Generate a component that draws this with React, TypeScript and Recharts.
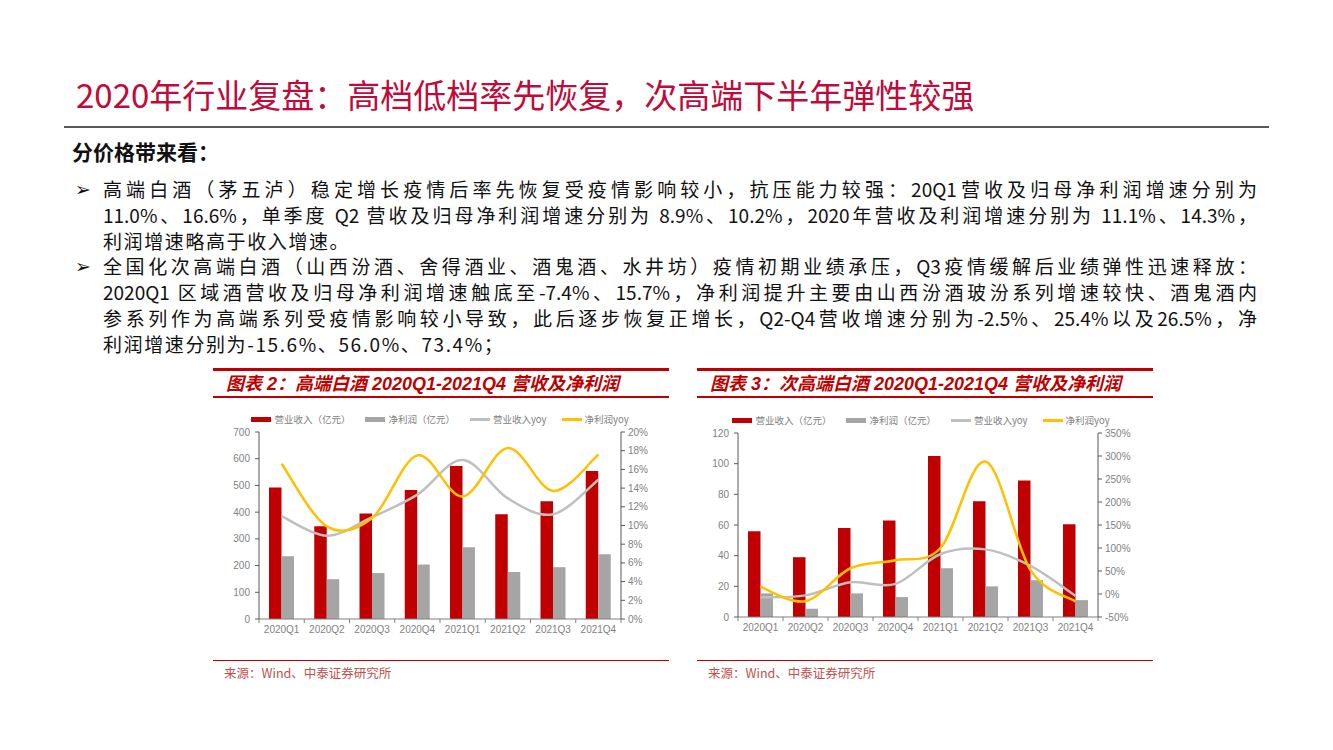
import { ComposedChart, Bar, Line, XAxis, YAxis, Legend } from "recharts";

const quarters = ["2020Q1", "2020Q2", "2020Q3", "2020Q4", "2021Q1", "2021Q2", "2021Q3", "2021Q4"];

// 图表2 高端白酒
const hiRevenue = [492, 347, 395, 483, 573, 392, 441, 554];
const hiProfit = [235, 149, 172, 204, 269, 176, 194, 242];
const hiRevenueYoy = [11.0, 8.9, 10.9, 13.3, 17.0, 12.9, 11.2, 14.9];
const hiProfitYoy = [16.6, 9.9, 10.8, 17.5, 13.1, 18.3, 13.7, 17.6];
const hiLeftTicks = [0, 100, 200, 300, 400, 500, 600, 700];
const hiRightTicks = [0, 2, 4, 6, 8, 10, 12, 14, 16, 18, 20];

// 图表3 次高端白酒
const subRevenue = [56, 39, 58, 63, 105, 75.5, 89, 60.5];
const subProfit = [15.4, 5.4, 15.4, 13, 31.8, 20, 24, 11];
const subRevenueYoy = [-7.4, -3, 25.4, 22, 87, 97, 61, -4];
const subProfitYoy = [15.7, -15.6, 56.0, 73.4, 100, 288, 52, -16];
const subLeftTicks = [0, 20, 40, 60, 80, 100, 120];
const subRightTicks = [-50, 0, 50, 100, 150, 200, 250, 300, 350];

const seriesNames = ["营业收入（亿元）", "净利润（亿元）", "营业收入yoy", "净利润yoy"];

const buildRows = (rev: number[], prof: number[], revYoy: number[], profYoy: number[]) =>
  quarters.map((q, i) => ({ q, rev: rev[i], prof: prof[i], revYoy: revYoy[i], profYoy: profYoy[i] }));

const hiRows = buildRows(hiRevenue, hiProfit, hiRevenueYoy, hiProfitYoy);
const subRows = buildRows(subRevenue, subProfit, subRevenueYoy, subProfitYoy);

// excel style smoothed line (catmull-rom through the points)
const excelCurve = (context: any) => {
  let pts: number[][] = [];
  return {
    areaStart() {},
    areaEnd() {},
    lineStart() {
      pts = [];
    },
    point(x: number, y: number) {
      pts.push([+x, +y]);
    },
    lineEnd() {
      if (!pts.length) return;
      context.moveTo(pts[0][0], pts[0][1]);
      for (let i = 0; i < pts.length - 1; i++) {
        const p0 = pts[i - 1] || pts[i];
        const p1 = pts[i];
        const p2 = pts[i + 1];
        const p3 = pts[i + 2] || p2;
        context.bezierCurveTo(
          p1[0] + (p2[0] - p0[0]) / 6,
          p1[1] + (p2[1] - p0[1]) / 6,
          p2[0] - (p3[0] - p1[0]) / 6,
          p2[1] - (p3[1] - p1[1]) / 6,
          p2[0],
          p2[1]
        );
      }
    },
  };
};

const axisGray = "#7f7f7f";
const labelGray = "#7f7f7f";

const renderLegend = (props: any) => {
  const items = [...(props.payload || [])].sort(
    (a: any, b: any) => seriesNames.indexOf(a.value) - seriesNames.indexOf(b.value)
  );
  return (
    <div
      style={{
        height: 26,
        display: "flex",
        justifyContent: "center",
        alignItems: "center",
        gap: 15,
        fontSize: 9.5,
        color: "#808080",
        paddingLeft: 14,
        fontFamily: "'Noto Sans CJK SC', sans-serif",
      }}
    >
      {items.map((e: any) => (
        <span key={e.value} style={{ display: "flex", alignItems: "center" }}>
          <span
            style={{
              display: "inline-block",
              width: 20,
              height: e.type === "rect" ? 5 : 3,
              background: e.color,
              marginRight: 3,
            }}
          />
          {e.value}
        </span>
      ))}
    </div>
  );
};

const makeTick = (band: number, count: number) => (props: any) => {
  const { x, y, payload, index } = props;
  const axisY = y - 7;
  return (
    <g>
      <line x1={x - band / 2} x2={x - band / 2} y1={axisY} y2={axisY + 4} stroke={axisGray} />
      {index === count - 1 && (
        <line x1={x + band / 2} x2={x + band / 2} y1={axisY} y2={axisY + 4} stroke={axisGray} />
      )}
      <text x={x} y={y} dy="0.71em" textAnchor="middle" fontSize={10} fill={labelGray} fontFamily="'Liberation Sans', sans-serif">
        {payload.value}
      </text>
    </g>
  );
};

interface QuarterChartProps {
  rows: any[];
  width: number;
  height: number;
  rightMargin: number;
  rightWidth: number;
  plotWidth: number;
  leftTicks: number[];
  rightTicks: number[];
}

function QuarterChart({ rows, width, height, rightMargin, rightWidth, plotWidth, leftTicks, rightTicks }: QuarterChartProps) {
  const tickStyle = { fontSize: 10, fill: labelGray, fontFamily: "'Liberation Sans', sans-serif" };
  return (
    <ComposedChart
      width={width}
      height={height}
      data={rows}
      margin={{ top: 0, right: rightMargin, left: 0, bottom: 0 }}
      barGap={0}
    >
      <Legend verticalAlign="top" content={renderLegend} />
      <XAxis
        dataKey="q"
        height={22}
        interval={0}
        tickLine={false}
        tickSize={4}
        tickMargin={3}
        axisLine={{ stroke: axisGray }}
        tick={makeTick(plotWidth / quarters.length, quarters.length)}
      />
      <YAxis
        yAxisId="left"
        width={54}
        domain={[leftTicks[0], leftTicks[leftTicks.length - 1]]}
        ticks={leftTicks}
        interval={0}
        tickSize={4}
        tickMargin={5}
        axisLine={{ stroke: "#595959" }}
        tickLine={{ stroke: "#595959" }}
        tick={tickStyle}
      />
      <YAxis
        yAxisId="right"
        orientation="right"
        width={rightWidth}
        domain={[rightTicks[0], rightTicks[rightTicks.length - 1]]}
        ticks={rightTicks}
        interval={0}
        tickSize={4}
        tickMargin={3}
        axisLine={{ stroke: "#595959" }}
        tickLine={{ stroke: "#595959" }}
        tick={tickStyle}
        tickFormatter={(v) => `${v}%`}
      />
      <Bar yAxisId="left" dataKey="rev" name={seriesNames[0]} fill="#C00000" barSize={12.5} isAnimationActive={false} />
      <Bar yAxisId="left" dataKey="prof" name={seriesNames[1]} fill="#A5A5A5" barSize={12.5} isAnimationActive={false} />
      <Line
        yAxisId="right"
        dataKey="revYoy"
        name={seriesNames[2]}
        type={excelCurve as any}
        stroke="#BFBFBF"
        strokeWidth={2.5}
        dot={false}
        isAnimationActive={false}
      />
      <Line
        yAxisId="right"
        dataKey="profYoy"
        name={seriesNames[3]}
        type={excelCurve as any}
        stroke="#FFC000"
        strokeWidth={2.5}
        dot={false}
        isAnimationActive={false}
      />
    </ComposedChart>
  );
}

const para1 = [
  "高端白酒（茅五泸）稳定增长疫情后率先恢复受疫情影响较小，抗压能力较强：20Q1营收及归母净利润增速分别为",
  "11.0%、16.6%，单季度 Q2 营收及归母净利润增速分别为 8.9%、10.2%，2020年营收及利润增速分别为 11.1%、14.3%，",
  "利润增速略高于收入增速。",
];
const para2 = [
  "全国化次高端白酒（山西汾酒、舍得酒业、酒鬼酒、水井坊）疫情初期业绩承压，Q3疫情缓解后业绩弹性迅速释放：",
  "2020Q1 区域酒营收及归母净利润增速触底至-7.4%、15.7%，净利润提升主要由山西汾酒玻汾系列增速较快、酒鬼酒内",
  "参系列作为高端系列受疫情影响较小导致，此后逐步恢复正增长，Q2-Q4营收增速分别为-2.5%、25.4%以及26.5%，净",
  "利润增速分别为-15.6%、56.0%、73.4%；",
];

const red = "#C00000";

function Panel({ left, title }: { left: number; title: string }) {
  return (
    <>
      <div style={{ position: "absolute", left, top: 368, width: 456, height: 3, background: red }} />
      <div
        style={{
          position: "absolute",
          left: left + 13,
          top: 372,
          height: 24,
          lineHeight: "24px",
          fontSize: 18,
          fontWeight: 700,
          fontStyle: "italic",
          color: red,
          fontFamily: "'Liberation Sans', 'Noto Sans CJK SC', sans-serif",
          whiteSpace: "nowrap",
        }}
      >
        {title}
      </div>
      <div style={{ position: "absolute", left, top: 396, width: 456, height: 1.5, background: red }} />
      <div style={{ position: "absolute", left, top: 659.5, width: 456, height: 1.5, background: red }} />
      <div
        style={{
          position: "absolute",
          left: left + 11,
          top: 665,
          lineHeight: "16px",
          fontSize: 12.5,
          color: "#C0504D",
          whiteSpace: "nowrap",
        }}
      >
        来源：Wind、中泰证券研究所
      </div>
    </>
  );
}

export default function App() {
  const lines = [...para1.map((t, i) => ({ t, first: i === 0, last: i === para1.length - 1 })),
    ...para2.map((t, i) => ({ t, first: i === 0, last: i === para2.length - 1 }))];
  return (
    <div
      style={{
        position: "absolute",
        left: 0,
        top: 0,
        width: 1333,
        height: 750,
        background: "#fff",
        overflow: "hidden",
        fontFamily: "'Noto Sans CJK SC', sans-serif",
      }}
    >
      <div
        style={{
          position: "absolute",
          left: 76,
          top: 73,
          lineHeight: "42px",
          fontSize: 33,
          color: "#C00A3A",
          whiteSpace: "nowrap",
        }}
      >
        2020年行业复盘：高档低档率先恢复，次高端下半年弹性较强
      </div>
      <div style={{ position: "absolute", left: 64, top: 126, width: 1205, height: 2, background: "#595959" }} />
      <div
        style={{
          position: "absolute",
          left: 72,
          top: 138,
          lineHeight: "26px",
          fontSize: 21,
          fontWeight: 700,
          color: "#111",
          whiteSpace: "nowrap",
        }}
      >
        分价格带来看：
      </div>

      {lines.map((l, i) => (
        <div key={i}>
          {l.first && (
            <div
              style={{
                position: "absolute",
                left: 75,
                top: 176 + i * 25.8,
                lineHeight: "26px",
                fontSize: 19,
                fontWeight: 700,
                color: "#111",
                fontFamily: "'DejaVu Sans', sans-serif",
              }}
            >
              ➢
            </div>
          )}
          <div
            style={{
              position: "absolute",
              left: 103,
              top: 176 + i * 25.8,
              width: 1154,
              lineHeight: "26px",
              fontSize: 19,
              color: "#111",
              whiteSpace: "nowrap",
              letterSpacing: l.last ? 1.6 : 0,
              textAlign: l.last ? "left" : "justify",
              textAlignLast: l.last ? "left" : "justify",
            }}
          >
            {l.t}
          </div>
        </div>
      ))}

      <Panel left={213} title="图表 2：高端白酒 2020Q1-2021Q4 营收及净利润" />
      <Panel left={697} title="图表 3：次高端白酒 2020Q1-2021Q4 营收及净利润" />

      <div style={{ position: "absolute", left: 205, top: 406 }}>
        <QuarterChart
          rows={hiRows}
          width={470}
          height={235}
          rightMargin={14}
          rightWidth={40}
          plotWidth={362}
          leftTicks={hiLeftTicks}
          rightTicks={hiRightTicks}
        />
      </div>
      <div style={{ position: "absolute", left: 684, top: 407 }}>
        <QuarterChart
          rows={subRows}
          width={470}
          height={232}
          rightMargin={10}
          rightWidth={46}
          plotWidth={360}
          leftTicks={subLeftTicks}
          rightTicks={subRightTicks}
        />
      </div>
    </div>
  );
}
